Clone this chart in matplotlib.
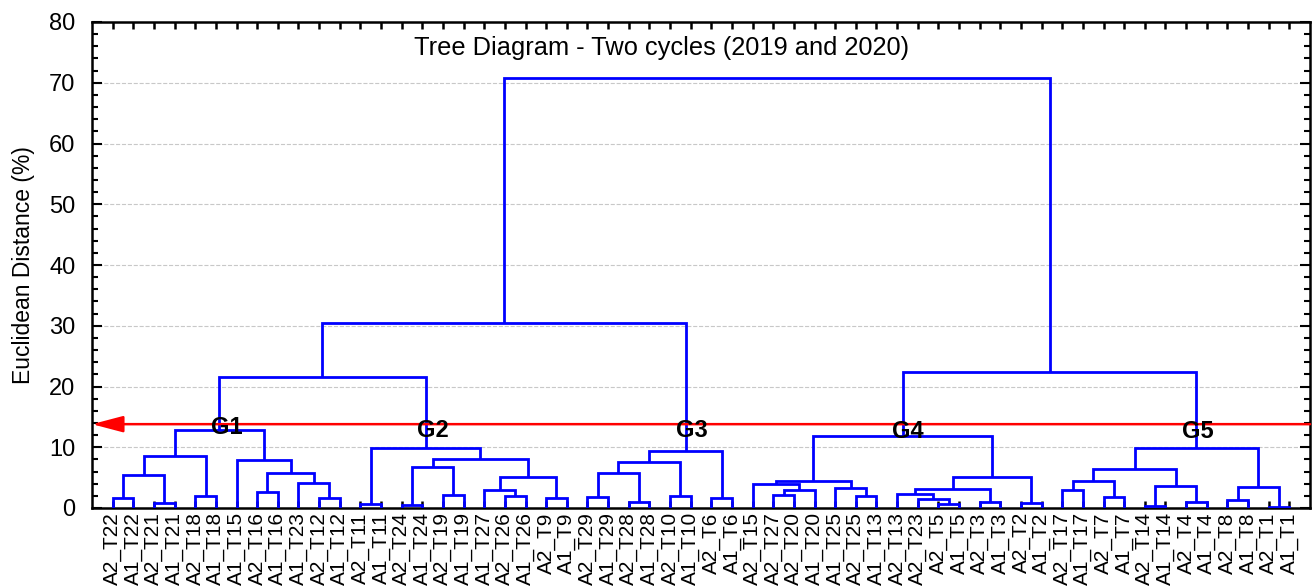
import matplotlib.pyplot as plt
from matplotlib.ticker import MultipleLocator

plt.rcParams['font.family'] = ['Liberation Sans', 'DejaVu Sans']

# leaf order, left to right
leaf_labels = [
    'A2_T22', 'A1_T22', 'A2_T21', 'A1_T21', 'A2_T18', 'A1_T18', 'A1_T15', 'A2_T16',
    'A1_T16', 'A1_T23', 'A2_T12', 'A1_T12',
    'A2_T11', 'A1_T11', 'A2_T24', 'A1_T24', 'A2_T19', 'A1_T19', 'A1_T27', 'A2_T26',
    'A1_T26', 'A2_T9', 'A1_T9',
    'A2_T29', 'A1_T29', 'A2_T28', 'A1_T28', 'A2_T10', 'A1_T10', 'A2_T6', 'A1_T6',
    'A2_T15', 'A2_T27', 'A2_T20', 'A1_T20', 'A1_T25', 'A2_T25', 'A1_T13', 'A2_T13',
    'A2_T23', 'A2_T5', 'A1_T5', 'A2_T3', 'A1_T3', 'A2_T2', 'A1_T2',
    'A2_T17', 'A1_T17', 'A2_T7', 'A1_T7', 'A2_T14', 'A1_T14', 'A2_T4', 'A1_T4',
    'A2_T8', 'A1_T8', 'A2_T1', 'A1_T1',
]

# clusters as (linkage distance, left, right); ints are leaf indices
g1 = (12.8, (8.55, (5.37, (1.59, 0, 1), (0.88, 2, 3)), (1.97, 4, 5)),
      (7.95, 6, (5.8, (2.57, 7, 8), (4.17, 9, (1.7, 10, 11)))))
g2 = (9.92, (0.66, 12, 13),
      (8.0, (6.8, (0.49, 14, 15), (2.13, 16, 17)),
       (5.15, (2.96, 18, (1.97, 19, 20)), (1.7, 21, 22))))
g3 = (9.37, (7.62, (5.8, (1.86, 23, 24), (1.04, 25, 26)), (1.97, 27, 28)),
      (1.7, 29, 30))
g4 = (11.84, (4.5, (3.95, 31, (2.96, (2.13, 32, 33), 34)), (3.34, 35, (2.03, 36, 37))),
      (5.15, (3.07, (2.24, 38, (1.54, 39, (0.6, 40, 41))), (0.93, 42, 43)),
       (0.77, 44, 45)))
g5 = (9.92, (6.41, (4.5, (2.96, 46, 47), (1.75, 48, 49)),
             (3.67, (0.38, 50, 51), (1.04, 52, 53))),
      (3.51, (1.32, 54, 55), (0.22, 56, 57)))
tree = (70.85, (30.5, (21.55, g1, g2), g3), (22.35, g4, g5))

cut_height = 13.8
group_names = ['G1', 'G2', 'G3', 'G4', 'G5']
group_x = [5.55, 15.5, 28.05, 38.5, 52.55]
group_y = [13.3, 12.7, 12.75, 12.65, 12.55]

fig = plt.figure(figsize=(13.16, 5.86), dpi=100)
ax = fig.add_axes([92 / 1316, 78 / 586, 1218 / 1316, 486 / 586])


def draw(node):
    # returns (x, height) of the node and draws its link
    if isinstance(node, int):
        return node, 0.0
    h, left, right = node
    xl, hl = draw(left)
    xr, hr = draw(right)
    ax.plot([xl, xl, xr, xr], [hl, h, h, hr], color='#0000ff', lw=2.0,
            solid_joinstyle='miter', solid_capstyle='butt', zorder=3)
    return (xl + xr) / 2, h


draw(tree)

# cut line with arrow to the left
ax.annotate('', xy=(-1, cut_height), xytext=(58, cut_height),
            arrowprops=dict(arrowstyle='-|>,head_length=1.9,head_width=0.5',
                            color='#ff0000', lw=1.8, mutation_scale=10,
                            shrinkA=0, shrinkB=0), zorder=4)

for name, gx, gy in zip(group_names, group_x, group_y):
    ax.text(gx, gy, name, fontsize=17, fontweight='bold', ha='center',
            va='center', zorder=5)

ax.text(0.468, 0.946, 'Tree Diagram - Two cycles (2019 and 2020)',
        transform=ax.transAxes, fontsize=18.3, ha='center', va='center')

ax.set_xlim(-1, 58)
ax.set_ylim(0, 80)
ax.set_xticks(range(len(leaf_labels)))
ax.set_xticklabels(leaf_labels, rotation=90, fontsize=15, va='top', ha='center')
ax.yaxis.set_major_locator(MultipleLocator(10))
ax.yaxis.set_minor_locator(MultipleLocator(2))
ax.tick_params(axis='y', which='major', direction='in', length=7, width=1.5,
               labelsize=17, pad=12, right=True)
ax.tick_params(axis='y', which='minor', direction='in', length=4, width=1.5, right=True)
ax.tick_params(axis='x', direction='in', length=5, width=1.8, pad=3, top=True)
ax.set_ylabel('Euclidean Distance (%)', fontsize=16.5, labelpad=10)

ax.grid(axis='y', which='major', color='#c8c8c8', linestyle='--', lw=0.8)
ax.set_axisbelow(True)
for sp in ax.spines.values():
    sp.set_linewidth(1.8)

fig.savefig('out.png', dpi=100)
